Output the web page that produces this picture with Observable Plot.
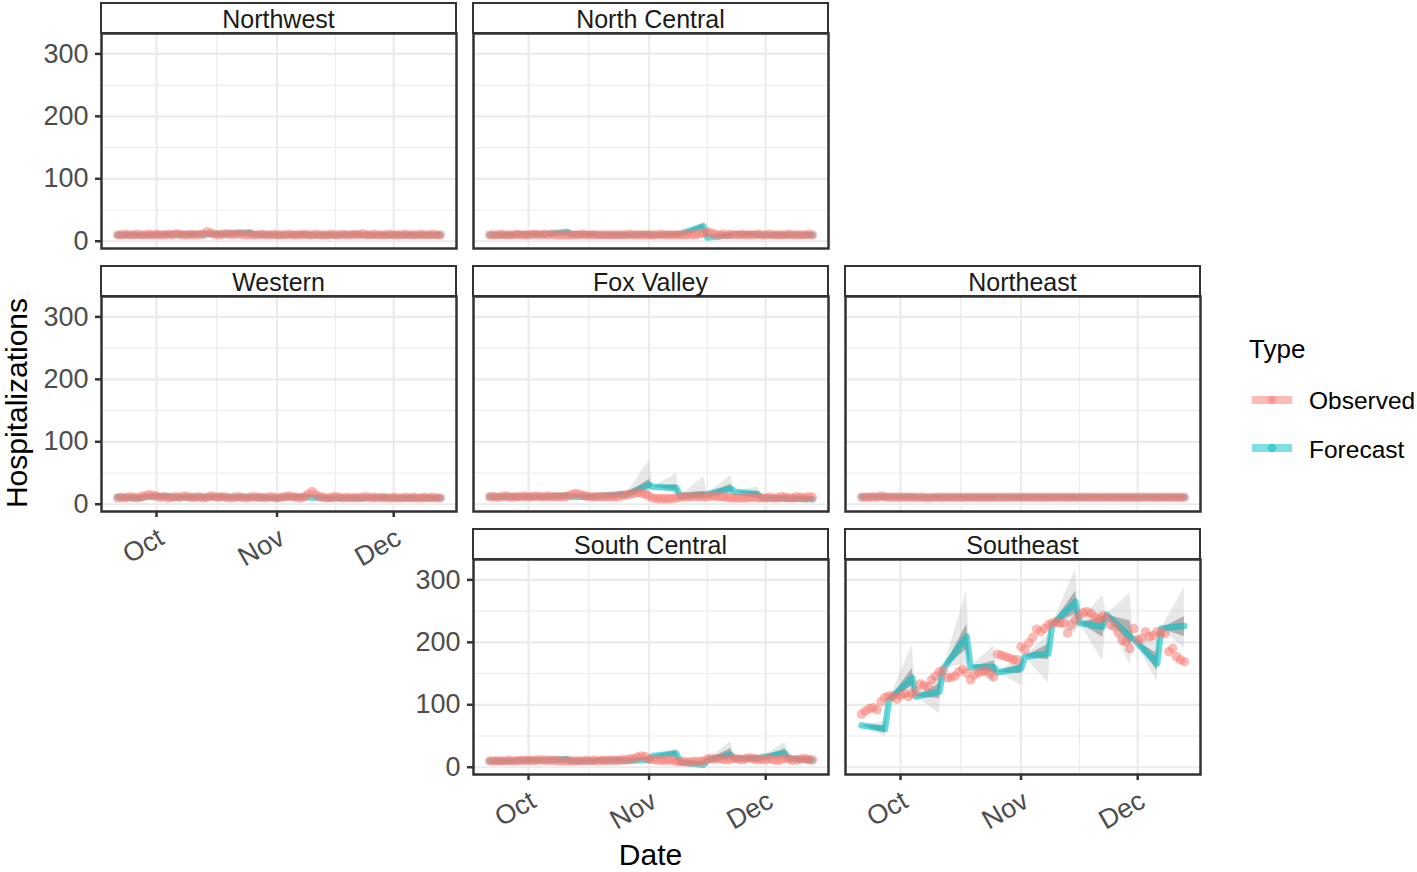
<!DOCTYPE html>
<html>
<head>
<meta charset="utf-8">
<script src="https://cdn.jsdelivr.net/npm/d3@7"></script>
<script src="https://cdn.jsdelivr.net/npm/@observablehq/plot@0.6"></script>
<style>
  body { margin: 0; background: #fff; }
  #chart { position: relative; width: 1417px; height: 872px; overflow: hidden; background: #fff;
           font-family: "Liberation Sans", Arial, Helvetica, sans-serif; }
  .panel { position: absolute; }
  .strip { position: absolute; box-sizing: border-box; border: 2.5px solid #333; background: #fff;
           color: #1a1a1a; font-size: 25px; text-align: center; line-height: 30px; }
  .txt { position: absolute; white-space: nowrap; line-height: 1; }
</style>
</head>
<body>
<div id="chart"></div>
<script>
// ---------------- data ----------------
const regions = ["Northwest", "North Central", "Western", "Fox Valley", "Northeast", "South Central", "Southeast"];
const obsStart = "2022-09-21"; // first observed day (daily series)
const fcStarts = ["2022-09-21","2022-09-28","2022-10-05","2022-10-12","2022-10-19","2022-10-26",
                  "2022-11-02","2022-11-09","2022-11-16","2022-11-23","2022-11-30","2022-12-07"];
const fcHorizonDays = 6;
const xMajor = ["2022-10-01", "2022-11-01", "2022-12-01"];
const xMinor = ["2022-10-16T12:00", "2022-11-16"];
const yMajor = [0, 100, 200, 300];
const yMinor = [50, 150, 250];
const typeLabels = ["Observed", "Forecast"];

// observed daily hospitalizations
const obsNorthwest = [10,10,11,10,10,11,10,10,11,10, 11,10,10,11,10,12,11,10,10,11,
  10,11,11,15,13,11,10,11,12,11, 11,12,11,10,11,10,10,11,10,10, 11,10,10,10,11,10,10,10,11,10,
  10,11,10,10,10,11,10,10,11,10, 10,11,10,12,10,10,11,10,10,10, 11,10,10,10,11,10,10,10,11,10, 10,11,10,10];
const obsNorthCentral = [10,10,10,11,10,10,10,11,10,10, 10,11,11,10,11,10,11,10,10,10,
  10,10,10,10,11,10,10,10,10,10, 10,10,10,10,10,10,11,10,10,10, 10,10,10,10,11,10,10,10,10,10,
  10,11,10,11,12,13,15,13,11,10, 11,10,11,10,10,11,10,10,10,11, 10,10,11,10,10,10,10,11,10,10, 10,10,11,10];
const obsWestern = [10,11,10,12,11,10,12,13,15,14, 13,11,12,10,11,12,11,13,12,11,
  11,12,10,11,13,12,11,12,11,10, 11,12,11,10,11,12,11,11,10,12, 11,10,11,12,13,12,11,10,12,16,
  20,15,12,11,10,11,12,11,10,11, 10,11,10,11,12,10,11,10,11,10, 10,11,10,10,11,10,11,10,10,11, 10,11,10,10];
const obsFoxValley = [12,12,11,12,13,12,11,12,12,13, 12,12,13,12,12,13,12,12,12,12,
  13,15,17,16,14,13,12,12,12,12, 12,12,12,12,14,15,16,17,19,18, 16,13,10,9,9,9,9,9,10,11,
  12,12,12,13,12,12,12,13,13,12, 12,11,10,10,10,10,10,11,11,10, 10,10,11,10,10,12,11,10,10,12, 11,10,12,11];
const obsNortheast = [11,11,11,12,11,13,12,11,11,11, 11,11,11,11,11,11,11,10,11,11,
  11,11,11,11,11,11,11,11,11,11, 11,11,11,11,11,11,11,11,11,11, 11,11,11,11,11,11,11,11,11,11,
  11,11,11,11,11,11,11,11,11,11, 11,11,11,11,11,11,11,11,11,11, 11,11,11,11,11,11,11,11,11,11, 11,11,11,11];
const obsSouthCentral = [10,10,10,10,10,11,10,10,11,11, 11,11,11,12,11,11,11,11,10,10,
  10,10,10,10,10,11,10,11,10,11, 11,11,11,11,12,12,13,14,16,18, 17,13,12,12,11,11,12,11,9,9,
  9,8,9,9,9,10,13,14,13,14, 13,12,13,14,13,12,14,15,13,12, 13,12,14,12,11,12,15,13,11,12, 13,14,12,12];
const obsSoutheast = [85,90,94,95,92,105,112,114,114,109, 115,118,113,118,121,133,131,129,140,146,
  153,155,143,144,146,153,157,151,140,148, 151,153,155,150,145,181,179,177,175,172,
  172,193,188,199,208,221,217,222,228,231, 232,231,231,215,228,236,244,248,249,246,
  240,237,242,239,228,225,215,203,201,190, 222,204,206,217,209,211,217,215,214,185, 190,177,172,169];

// weekly forecasts: [start value, end value, 50% low, 50% high, 95% low, 95% high] (interval at horizon end)
const fcNorthwest = [[10,10,9,11,7,13],[10,11,10,12,8,14],[11,11,10,12,8,14],[11,12,11,13,9,15],[12,14,13,16,10,18],[11,10,9,11,8,13],
  [10,11,10,12,8,14],[10,10,9,11,8,13],[10,11,10,12,8,14],[10,10,9,11,8,13],[10,10,9,11,8,13],[10,10,9,11,8,13]];
const fcNorthCentral = [[10,10,9,11,7,13],[11,11,10,12,8,14],[11,15,13,16,10,19],[11,11,10,12,8,14],[10,10,9,11,8,13],[10,11,10,12,8,14],
  [10,11,10,12,8,14],[12,24,20,27,14,30],[6,10,8,11,5,14],[11,11,10,12,8,14],[10,10,9,11,8,13],[10,10,9,11,8,13]];
const fcWestern = [[11,10,9,11,7,13],[12,13,12,14,9,16],[11,11,10,12,8,14],[11,12,11,13,9,15],[11,11,10,12,8,14],[11,10,9,11,7,13],
  [11,12,11,13,9,15],[11,9,8,11,6,13],[10,10,9,11,8,13],[10,11,10,12,8,14],[10,10,9,11,8,13],[10,10,9,11,8,13]];
const fcFoxValley = [[12,12,11,13,9,15],[12,12,11,13,9,16],[12,14,13,15,10,18],[12,12,11,13,9,16],[13,16,14,18,11,22],[15,31,25,40,18,70],
  [28,26,22,31,16,49],[13,16,13,20,9,44],[16,25,20,32,14,47],[20,16,13,20,9,28],[10,9,8,11,6,14],[9,8,7,10,5,13]];
const fcNortheast = [[12,12,11,13,9,15],[12,12,11,13,9,15],[11,11,10,12,9,13],[11,11,10,12,9,13],[11,11,10,12,9,13],[11,11,10,12,9,13],
  [11,11,10,12,9,13],[11,11,10,12,9,13],[11,11,10,12,9,13],[11,11,10,12,9,13],[11,11,10,12,9,13],[11,11,10,12,9,13]];
const fcSouthCentral = [[10,10,9,11,7,13],[11,11,10,12,8,14],[11,13,12,14,9,17],[10,10,9,11,7,13],[11,11,10,12,8,14],[10,12,11,14,8,17],
  [18,22,18,26,14,30],[8,4,2,7,4,10],[11,20,16,30,12,41],[14,14,12,17,9,22],[16,22,18,30,13,40],[14,11,9,14,6,19]];
const fcSoutheast = [[67,61,55,67,49,73],[107,143,130,158,112,196],[113,121,110,134,86,152],[158,209,188,228,165,283],
  [160,160,151,170,134,195],[152,158,150,166,131,176],[177,182,172,197,135,212],[228,265,245,282,215,317],
  [231,225,208,240,170,276],[244,209,196,234,164,279],[205,166,155,182,137,205],[222,226,209,241,190,287]];

// facet layout (grid slot of each region)
const panelRow = [0, 0, 1, 1, 1, 2, 2];
const panelCol = [0, 1, 0, 1, 2, 1, 2];

// ---------------- build tables ----------------
const obsByRegion = [obsNorthwest, obsNorthCentral, obsWestern, obsFoxValley, obsNortheast, obsSouthCentral, obsSoutheast];
const fcByRegion = [fcNorthwest, fcNorthCentral, fcWestern, fcFoxValley, fcNortheast, fcSouthCentral, fcSoutheast];
const t0 = new Date(obsStart);
const obsRows = [], fcRows = [];
regions.forEach((name, i) => {
  obsByRegion[i].forEach((v, k) => obsRows.push({region: name, date: d3.utcDay.offset(t0, k), value: v}));
  fcByRegion[i].forEach(([a, b, l50, h50, l95, h95], s) => {
    const d0 = new Date(fcStarts[s]);
    fcRows.push({region: name, seg: s, date: d0, value: a, lo50: a, hi50: a, lo95: a, hi95: a});
    fcRows.push({region: name, seg: s, date: d3.utcDay.offset(d0, fcHorizonDays), value: b, lo50: l50, hi50: h50, lo95: l95, hi95: h95});
  });
});
// ggplot-like 5% expansion of shared scales
const xExt = d3.extent(obsRows.concat(fcRows), d => d.date);
const xPad = (xExt[1] - xExt[0]) * 0.05;
const xDomain = [new Date(+xExt[0] - xPad), new Date(+xExt[1] + xPad)];
const yLo = Math.min(d3.min(obsRows, d => d.value), d3.min(fcRows, d => d.lo95));
const yHi = Math.max(d3.max(obsRows, d => d.value), d3.max(fcRows, d => d.hi95));
const yDomain = [yLo - (yHi - yLo) * 0.05, yHi + (yHi - yLo) * 0.05];

// ---------------- layout ----------------
const chart = document.getElementById("chart");
const PW = 355, PH = 215, COL0 = 101, COLSTEP = 372, ROW0 = 33, ROWSTEP = 263;
const ML = 100, MR = 12, MT = 12, MB = 90;
const OBS = "#F8766D", FC = "#00BFC4";

function hasPanel(r, c) { return regions.some((_, i) => panelRow[i] === r && panelCol[i] === c); }

regions.forEach((name, i) => {
  const r = panelRow[i], c = panelCol[i];
  const L = COL0 + COLSTEP * c, T = ROW0 + ROWSTEP * r;
  const leftEmpty = c === 0 || !hasPanel(r, c - 1);
  const belowEmpty = !hasPanel(r + 1, c);
  const obs = obsRows.filter(d => d.region === name);
  const fc = fcRows.filter(d => d.region === name);
  const axisCommon = {fontSize: 27, fill: "#4D4D4D", stroke: "#333333", strokeWidth: 2.5, label: null};
  const xTickDates = xMajor.map(d => new Date(d));
  const svg = Plot.plot({
    width: ML + PW + MR, height: MT + PH + MB,
    marginLeft: ML, marginRight: MR, marginTop: MT, marginBottom: MB,
    x: {type: "utc", domain: xDomain, axis: null},
    y: {domain: yDomain, axis: null},
    style: {background: "transparent", overflow: "visible", fontFamily: "'Liberation Sans', Arial, sans-serif"},
    marks: [
      Plot.gridX(xMinor.map(d => new Date(d + "Z")), {stroke: "#EBEBEB", strokeOpacity: 1, strokeWidth: 1.1}),
      Plot.gridY(yMinor, {stroke: "#EBEBEB", strokeOpacity: 1, strokeWidth: 1.1}),
      Plot.gridX(xTickDates, {stroke: "#EBEBEB", strokeOpacity: 1, strokeWidth: 2.2}),
      Plot.gridY(yMajor, {stroke: "#EBEBEB", strokeOpacity: 1, strokeWidth: 2.2}),
      Plot.areaY(fc, {x: "date", y1: "lo95", y2: "hi95", fill: "#BDBDBD", fillOpacity: 0.35}),
      Plot.areaY(fc, {x: "date", y1: "lo50", y2: "hi50", fill: "#7F7F7F", fillOpacity: 0.55}),
      Plot.lineY(fc, {x: "date", y: "value", stroke: FC, strokeWidth: 6.5, strokeOpacity: 0.6}),
      Plot.dot(obs, {x: "date", y: "value", r: 4.8, fill: OBS, fillOpacity: 0.5}),
      Plot.frame({stroke: "#333333", strokeWidth: 2.5}),
      leftEmpty ? Plot.axisY(yMajor, {...axisCommon, tickSize: 6, tickPadding: 7}) : null,
      belowEmpty ? Plot.axisX(xTickDates, {...axisCommon, tickSize: 6, fill: "none"}) : null,
      belowEmpty ? Plot.axisX(xTickDates, {...axisCommon, stroke: "none", tickSize: 0, tickPadding: 10, tickRotate: -30,
                              dx: 5, dy: 14, tickFormat: d3.utcFormat("%b")}) : null
    ]
  });
  svg.classList.add("panel");
  svg.style.left = (L - ML) + "px";
  svg.style.top = (T - MT) + "px";
  chart.appendChild(svg);

  const strip = document.createElement("div");
  strip.className = "strip";
  strip.textContent = name;
  strip.style.left = (L - 1.25) + "px";
  strip.style.top = (T - 31) + "px";
  strip.style.width = (PW + 2.5) + "px";
  strip.style.height = "32.25px";
  chart.appendChild(strip);
});

// axis titles
function addText(txt, css) {
  const d = document.createElement("div");
  d.className = "txt";
  d.textContent = txt;
  Object.assign(d.style, css);
  chart.appendChild(d);
  return d;
}
addText("Date", {left: "550.5px", width: "200px", textAlign: "center", top: "839.6px", fontSize: "30px", color: "#000"});
addText("Hospitalizations", {left: "-183.4px", top: "388px", width: "400px", height: "30px", textAlign: "center",
  fontSize: "30px", color: "#000", transform: "rotate(-90deg)", transformOrigin: "50% 50%"});

// legend
addText("Type", {left: "1249px", top: "336px", fontSize: "26px", color: "#000"});
[OBS, FC].forEach((col, k) => {
  const cy = 400 + k * 48.3;
  const ns = "http://www.w3.org/2000/svg";
  const s = document.createElementNS(ns, "svg");
  s.setAttribute("width", 40); s.setAttribute("height", 20);
  s.style.position = "absolute"; s.style.left = "1252px"; s.style.top = (cy - 10) + "px";
  const rect = document.createElementNS(ns, "rect");
  rect.setAttribute("x", 0); rect.setAttribute("y", 6); rect.setAttribute("width", 40); rect.setAttribute("height", 8);
  rect.setAttribute("fill", col); rect.setAttribute("fill-opacity", 0.5);
  const circ = document.createElementNS(ns, "circle");
  circ.setAttribute("cx", 20); circ.setAttribute("cy", 10); circ.setAttribute("r", 4.2);
  circ.setAttribute("fill", col); circ.setAttribute("fill-opacity", 0.5);
  s.appendChild(rect); s.appendChild(circ);
  chart.appendChild(s);
  addText(typeLabels[k], {left: "1309px", top: (cy + 10 - 0.8465 * 24.5) + "px", fontSize: "24.5px", color: "#000"});
});
</script>
</body>
</html>
